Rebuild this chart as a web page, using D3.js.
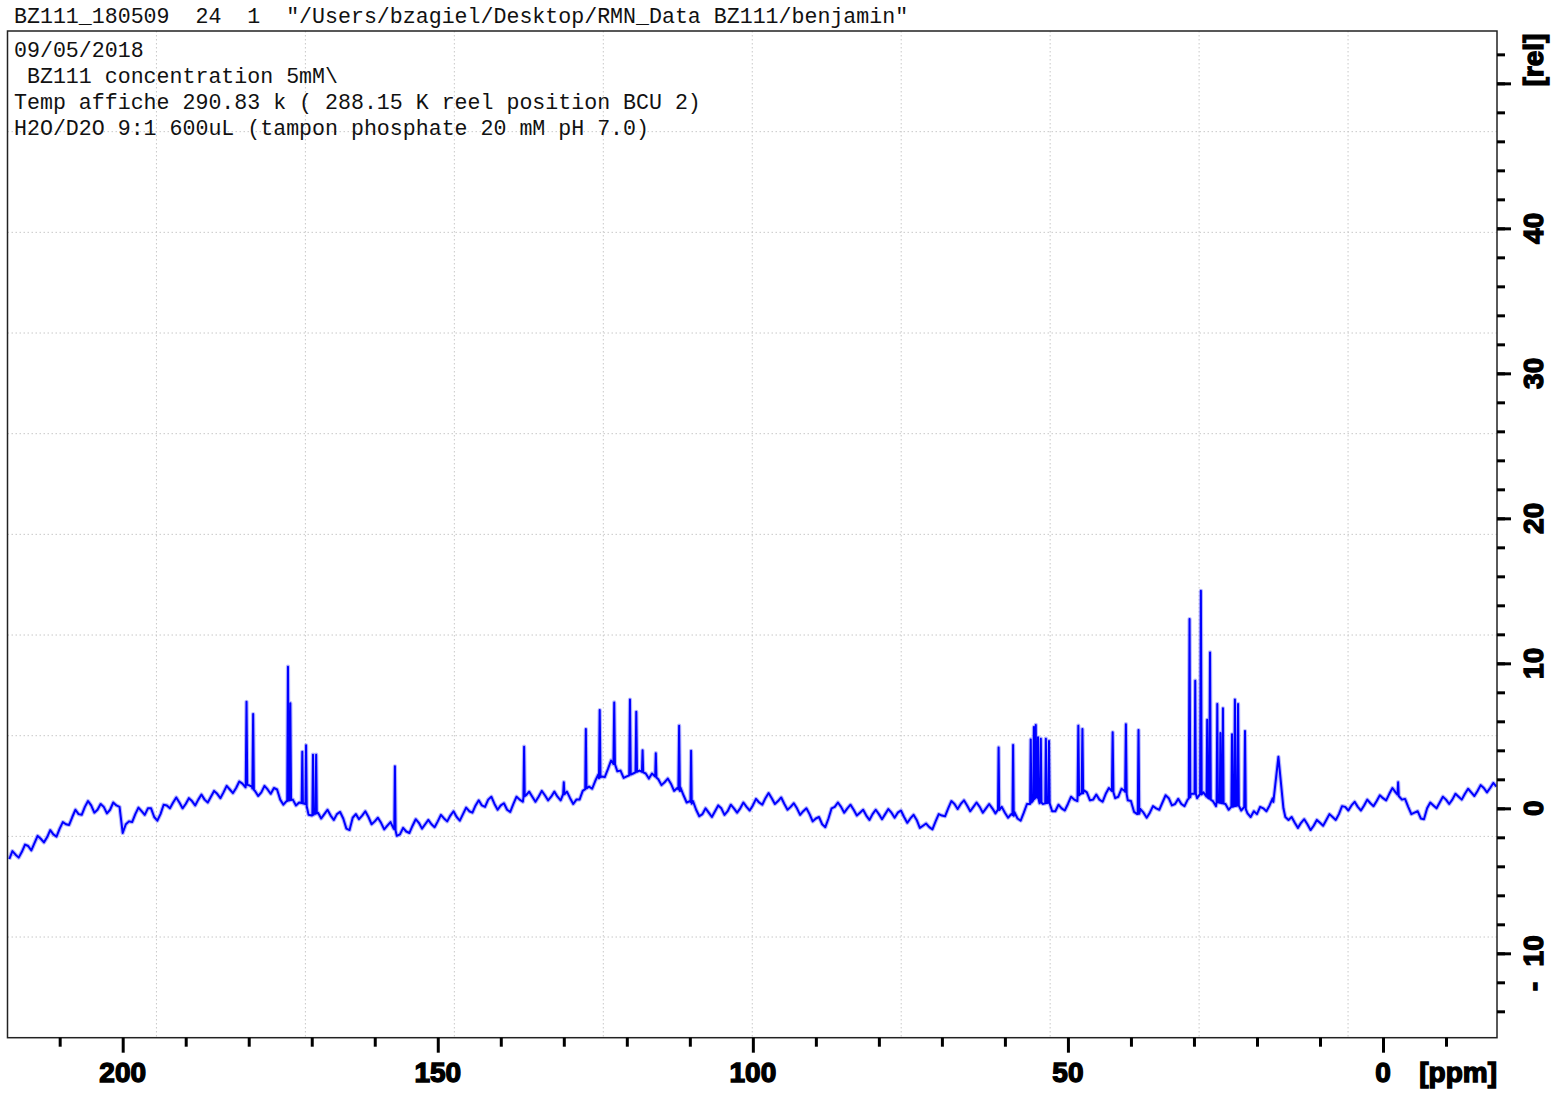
<!DOCTYPE html>
<html><head><meta charset="utf-8">
<script src="https://cdn.jsdelivr.net/npm/d3@7"></script>
<style>body{margin:0;background:#fff}svg{display:block}</style>
</head><body><svg id="c" width="1555" height="1095"></svg>
<script>
// ---- data ----
const headerLine = 'BZ111_180509  24  1  "/Users/bzagiel/Desktop/RMN_Data BZ111/benjamin"';
const titleLines = ["09/05/2018", " BZ111 concentration 5mM\\", "Temp affiche 290.83 k ( 288.15 K reel position BCU 2)", "H2O/D2O 9:1 600uL (tampon phosphate 20 mM pH 7.0)"];
const xMajorTicks = [200, 150, 100, 50, 0];
const xMinorTicks = [210, 190, 180, 170, 160, 140, 130, 120, 110, 90, 80, 70, 60, 40, 30, 20, 10, -10];
const yMajorTicks = [50, 40, 30, 20, 10, 0, -10];
const yLabelTicks = [40, 30, 20, 10, 0, -10];
const xUnit = "[ppm]", yUnit = "[rel]";
// baseline intensity read every 1 ppm from 218 down to -18 ppm
const baselinePpm = d3.range(218, -19, -1);
const baseline = [
 -3.5,-3.2,-3.0,-2.6,-2.4,-2.1,-2.0,-1.8,-1.4,-1.1,
 -0.6,-0.4,0.1,0.2,-0.1,0.1,-0.1,0.2,-1.7,-0.9,
 -0.4,-0.2,0.0,-0.6,-0.4,0.2,0.4,0.4,0.3,0.5,
 0.6,0.6,0.8,1.0,1.1,1.3,1.4,1.7,1.6,1.2,
 1.1,1.3,1.4,0.6,0.5,0.6,0.4,0.3,-0.5,-0.3,
 -0.4,-0.5,-0.4,-0.7,-1.5,-0.4,-0.5,-0.6,-0.9,-1.0,
 -1.2,-1.4,-1.8,-1.6,-1.2,-1.0,-1.1,-1.1,-0.9,-0.7,
 -0.5,-0.6,-0.4,-0.2,0.2,0.2,0.6,0.3,0.2,-0.1,
 0.3,0.6,0.9,0.8,0.8,0.9,0.8,0.8,1.0,0.7,
 0.6,1.2,1.5,1.9,2.2,2.7,3.1,2.6,2.2,2.4,
 2.6,2.4,2.4,2.0,1.8,1.7,1.4,0.9,0.5,-0.1,
 -0.4,-0.3,-0.2,0.0,-0.2,0.0,0.0,0.1,0.2,0.4,
 0.7,0.7,0.5,0.3,0.1,0.0,-0.2,-0.4,-0.7,-1.1,
 -0.7,0.1,0.1,0.0,-0.1,-0.3,-0.5,-0.4,-0.4,-0.4,
 -0.3,-0.3,-0.6,-0.7,-0.8,-1.2,-1.3,-0.9,-0.5,0.0,
 0.3,0.3,0.2,0.1,0.1,0.0,0.0,-0.1,-0.3,-0.4,
 -0.7,-0.3,0.3,0.8,0.3,0.4,-0.2,0.0,0.3,0.6,
 1.0,1.1,0.6,0.6,1.0,1.2,0.8,1.2,0.5,-0.4,
 -0.3,-0.3,0.0,0.4,0.7,0.3,0.3,0.6,1.0,1.0,
 0.8,0.5,0.4,0.3,0.1,0.2,0.1,-0.6,-0.4,0.0,
 0.2,0.6,0.2,-0.8,-1.0,-1.0,-1.1,-1.2,-1.0,-0.8,
 -0.6,-0.4,0.1,0.2,0.1,0.2,0.35,0.5,0.7,1.0,
 1.1,0.6,0.1,-0.3,-0.7,0.0,0.2,0.4,0.6,0.6,
 0.8,1.0,1.1,1.2,1.4,1.4,1.5];
// noisy in-between readings at the half-ppm positions 217.5 ... -17.5
const halfPpm = d3.range(217.5, -18, -1);
const baselineHalf = [
 -2.95,-3.4,-2.5,-2.9,-1.9,-2.35,-1.5,-1.95,-0.95,-1.15,
 -0.1,-0.45,0.5,-0.3,0.3,-0.35,0.4,0.1,-1.1,-0.95,
 0.05,-0.45,0.0,-0.85,0.25,0.0,0.75,0.0,0.7,0.2,
 0.95,0.4,1.2,0.7,1.55,1.05,1.85,1.45,1.5,0.85,
 1.55,1.0,1.3,0.25,0.55,0.2,0.35,-0.45,-0.1,-0.7,
 -0.1,-0.8,-0.25,-1.4,-0.65,-0.75,-0.2,-1.1,-0.65,-1.45,
 -0.95,-1.9,-1.35,-1.7,-0.75,-1.4,-0.8,-1.3,-0.45,-0.9,
 -0.2,-0.85,0.05,-0.3,0.55,0.1,0.8,-0.1,0.35,-0.25,
 0.8,0.45,1.15,0.45,1.2,0.55,1.15,0.55,1.15,0.3,
 0.6,1.65,1.35,2.35,2.15,3.3,2.55,2.1,2.3,2.5,
 2.5,2.05,2.55,1.6,2.05,1.2,1.45,0.4,0.5,-0.55,
 0.0,-0.6,0.2,-0.45,0.25,-0.3,0.4,-0.15,0.65,0.25,
 1.05,0.3,0.75,-0.1,0.35,-0.45,0.0,-0.9,-0.6,-1.3,
 0.0,0.4,-0.3,0.25,-0.5,-0.1,-0.8,-0.1,-0.75,-0.05,
 -0.65,-0.15,-1.0,-0.45,-1.35,-1.05,-1.45,-0.4,-0.55,0.5,
 -0.05,0.55,-0.2,0.4,-0.3,0.3,-0.35,0.1,-0.65,-0.25,
 -0.85,0.3,0.8,0.35,0.4,-0.2,0.25,-0.15,0.8,0.5,
 1.25,0.55,0.95,0.45,1.4,0.7,1.35,0.55,-0.25,-0.05,
 -0.65,0.15,-0.1,0.9,0.2,0.65,0.15,1.0,0.7,1.1,
 0.65,0.15,0.65,-0.1,0.15,-0.15,-0.35,-0.2,0.1,-0.2,
 0.7,0.4,-0.6,-0.6,-1.35,-0.75,-1.5,-0.8,-1.2,-0.4,
 -0.8,0.15,-0.15,0.45,-0.15,0.6,0.15,0.9,0.55,1.4,
 0.55,0.65,-0.4,-0.2,-0.75,0.4,0.0,0.8,0.3,1.0,
 0.6,1.35,0.85,1.6,1.1,1.75];
const peakPpm = [180.35,179.3,173.77,173.4,171.5,170.9,169.8,169.3,156.8,136.3,130.0,126.5,124.3,122.0,119.5,118.5,117.5,115.4,111.7,109.8,
 61.0,58.7,55.9,55.4,55.1,54.75,54.3,53.5,53.0,48.35,47.7,42.9,40.8,38.8,30.7,29.8,28.9,27.9,27.45,26.3,25.8,25.4,23.96,23.5,23.0,21.9,16.6,-2.4];
const peakTop = [7.35,6.5,9.77,7.25,3.9,4.35,3.7,3.7,2.9,4.25,1.8,5.47,6.78,7.3,7.5,6.66,4.0,3.8,5.7,3.97,
 4.2,4.37,4.75,5.6,5.75,4.9,4.8,4.8,4.65,5.7,5.47,5.24,5.8,5.4,13.05,8.8,15.0,6.1,10.75,7.2,5.2,6.9,5.1,7.5,7.2,5.33,3.55,1.8];
const peakHalfWidth = [0.12,0.12,0.12,0.12,0.1,0.1,0.1,0.1,0.1,0.1,0.1,0.1,0.12,0.12,0.12,0.12,0.1,0.1,0.12,0.1,
 0.1,0.1,0.1,0.1,0.1,0.1,0.1,0.1,0.1,0.12,0.12,0.12,0.12,0.12,0.12,0.1,0.12,0.1,0.12,0.1,0.1,0.1,0.1,0.12,0.12,0.12,0.8,0.1];

// ---- layout ----
const L = 7.5, R = 1497, T = 31, B = 1037.7;
const svg = d3.select("#c");
const x = d3.scaleLinear().domain([218.28, -18.09]).range([L, R]);
const y = d3.scaleLinear().domain([-15.82, 53.61]).range([B, T]);
const baseAt = d3.scaleLinear().domain(baselinePpm).range(baseline);

// header
svg.append("text").attr("x", 14).attr("y", 23).text(headerLine)
  .attr("font-family", "'Liberation Mono', monospace").attr("font-size", 21.6)
  .style("white-space", "pre").attr("fill", "#111");

// grid
const grid = svg.append("g").attr("stroke", "#c8c8c8").attr("stroke-width", 1).attr("stroke-dasharray", "1.5,2.5");
d3.range(1, 10).forEach(i => {
  const gx = L + i * (R - L) / 10, gy = T + i * (B - T) / 10;
  grid.append("line").attr("x1", gx).attr("x2", gx).attr("y1", T).attr("y2", B);
  grid.append("line").attr("x1", L).attr("x2", R).attr("y1", gy).attr("y2", gy);
});

// title block
titleLines.forEach((t, i) => {
  svg.append("text").attr("x", 14).attr("y", 57 + i * 26).text(t)
    .attr("font-family", "'Liberation Mono', monospace").attr("font-size", 21.6)
    .style("white-space", "pre").attr("fill", "#111");
});

// spectrum
const inPeak = p => peakPpm.some((c, i) => Math.abs(p - c) <= peakHalfWidth[i] + 0.02);
let pts = baselinePpm.map((p, i) => [p, baseline[i]])
  .concat(halfPpm.map((p, i) => [p, baselineHalf[i]]))
  .filter(d => !inPeak(d[0]));
peakPpm.forEach((p, i) => {
  const hw = peakHalfWidth[i];
  pts.push([p + hw, baseAt(p + hw)]);
  pts.push([p, peakTop[i]]);
  pts.push([p - hw, baseAt(p - hw)]);
});
pts.sort((a, b) => b[0] - a[0]);
svg.append("clipPath").attr("id", "clip").append("rect").attr("x", L).attr("y", T).attr("width", R - L).attr("height", B - T);
const line = d3.line().x(d => x(d[0])).y(d => y(d[1]));
const g = svg.append("g").attr("clip-path", "url(#clip)");
g.append("path").attr("d", line(pts)).attr("fill", "none").attr("stroke", "#4a4aff").attr("stroke-opacity", 0.4).attr("stroke-width", 4.2).attr("stroke-linejoin", "round");
g.append("path").attr("d", line(pts)).attr("fill", "none").attr("stroke", "#0000ff").attr("stroke-width", 2).attr("stroke-linejoin", "round");

// frame
svg.append("rect").attr("x", L).attr("y", T).attr("width", R - L).attr("height", B - T)
  .attr("fill", "none").attr("stroke", "#222").attr("stroke-width", 1.5);

// axes
function styleAxis(sel) { sel.select(".domain").remove(); sel.selectAll(".tick line").attr("stroke", "#000").attr("stroke-width", 3); sel.selectAll(".tick text").remove(); }
svg.append("g").attr("transform", `translate(0,${B})`).call(d3.axisBottom(x).tickValues(xMinorTicks).tickSize(9)).call(styleAxis);
svg.append("g").attr("transform", `translate(0,${B})`).call(d3.axisBottom(x).tickValues(xMajorTicks).tickSize(15)).call(styleAxis);
const labelFont = "'Liberation Sans', Arial, sans-serif";
function heavy(sel) { return sel.attr("font-family", labelFont).attr("font-weight", "bold").attr("font-size", 28).attr("fill", "#000").attr("stroke", "#000").attr("stroke-width", 1.4); }
xMajorTicks.forEach(v => {
  svg.append("text").attr("x", x(v)).attr("y", 1082).attr("text-anchor", "middle").text(v).call(heavy);
});
svg.append("text").attr("x", R).attr("y", 1082).attr("text-anchor", "end").text(xUnit).call(heavy);

svg.append("g").attr("transform", `translate(${R},0)`).call(d3.axisRight(y).tickValues(d3.range(-14, 53, 2)).tickSize(8)).call(styleAxis);
svg.append("g").attr("transform", `translate(${R},0)`).call(d3.axisRight(y).tickValues(yMajorTicks).tickSize(14)).call(styleAxis);
yLabelTicks.forEach(v => {
  const lab = v < 0 ? "-  " + Math.abs(v) : String(v);
  const cy = v < 0 ? y(v) + 10 : y(v);
  svg.append("text").attr("transform", `translate(1543,${cy}) rotate(-90)`).attr("text-anchor", "middle").text(lab)
    .style("white-space", "pre").call(heavy);
});
svg.append("text").attr("transform", `translate(1543,60) rotate(-90)`).attr("text-anchor", "middle").text(yUnit).call(heavy);
</script></body></html>
